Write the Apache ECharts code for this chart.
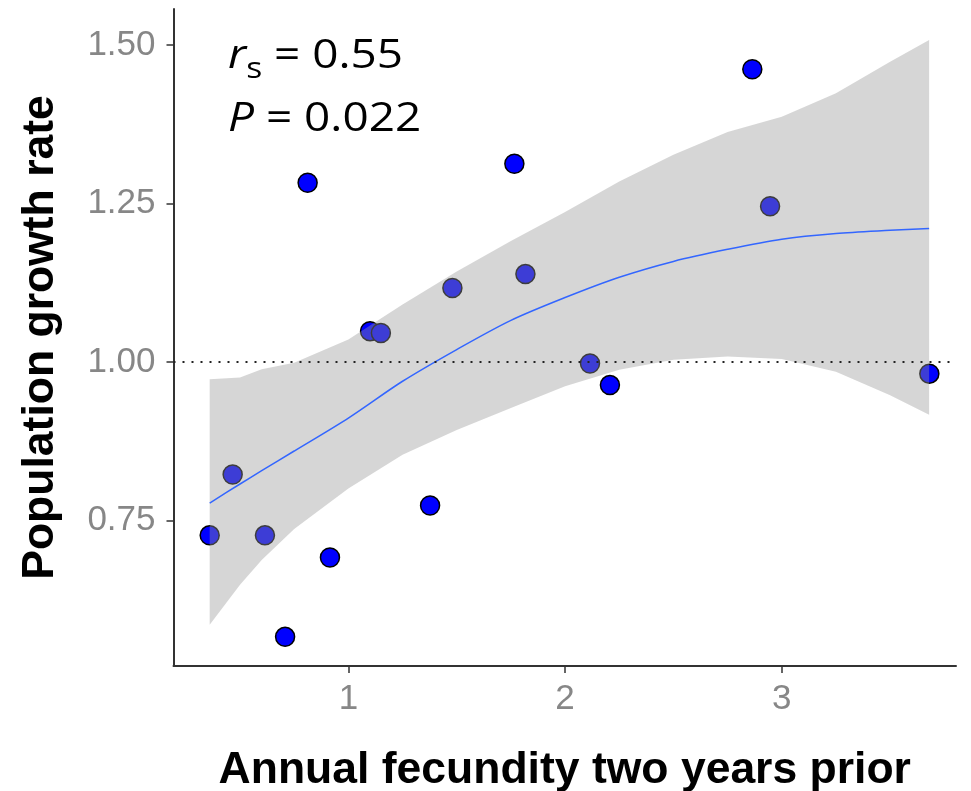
<!DOCTYPE html>
<html>
<head>
<meta charset="utf-8">
<script src="https://cdn.jsdelivr.net/npm/echarts@6/dist/echarts.min.js"></script>
<style>
  html, body { margin: 0; padding: 0; background: #fff; }
  #chart { width: 971px; height: 791px; }
</style>
</head>
<body>
<div id="chart"></div>
<script>
// observed points
const fecundity = [0.36, 0.466, 0.615, 0.708, 0.812, 0.915, 1.10, 1.15, 1.377, 1.48, 1.766, 1.817, 2.115, 2.207, 2.864, 2.946, 3.681];
const growth = [0.727, 0.823, 0.727, 0.567, 1.283, 0.692, 1.049, 1.046, 0.774, 1.117, 1.313, 1.139, 0.998, 0.964, 1.462, 1.246, 0.982];

// loess fit and its confidence band
const xFit = [0.36, 0.5, 0.6, 0.75, 1.0, 1.25, 1.5, 1.75, 2.0, 2.25, 2.5, 2.75, 3.0, 3.25, 3.5, 3.68];
const yFit = [0.778, 0.808, 0.829, 0.860, 0.912, 0.970, 1.020, 1.066, 1.102, 1.134, 1.159, 1.178, 1.194, 1.203, 1.208, 1.211];
const yLower = [0.586, 0.649, 0.688, 0.737, 0.801, 0.854, 0.893, 0.928, 0.962, 0.988, 1.004, 1.009, 1.005, 0.985, 0.948, 0.917];
const yUpper = [0.973, 0.976, 0.989, 0.999, 1.036, 1.091, 1.143, 1.191, 1.237, 1.285, 1.327, 1.363, 1.387, 1.424, 1.474, 1.508];

// tick labels
const xTicks = [1, 2, 3];
const yTicks = [0.75, 1.0, 1.25, 1.5];

const chart = echarts.init(document.getElementById('chart'));

const axisText = { color: '#878787', fontSize: 35, fontFamily: 'Liberation Sans' };
const titleText = { color: '#000', fontSize: 44.5, fontWeight: 'bold', fontFamily: 'Liberation Sans' };

const option = {
  animation: false,
  backgroundColor: '#fff',
  grid: { left: 173.5, right: 15, top: 9, bottom: 125, outerBoundsMode: 'none' },
  xAxis: {
    type: 'value',
    min: 0.193,
    max: 3.804,
    name: 'Annual fecundity two years prior',
    nameLocation: 'middle',
    nameGap: 82,
    nameTextStyle: titleText,
    splitLine: { show: false },
    axisLine: { lineStyle: { color: '#333', width: 2 } },
    axisTick: { customValues: xTicks, length: 7, lineStyle: { color: '#333', width: 1.5 } },
    axisLabel: Object.assign({ customValues: xTicks, margin: 16 }, axisText)
  },
  yAxis: {
    type: 'value',
    min: 0.521,
    max: 1.557,
    name: 'Population growth rate',
    nameLocation: 'middle',
    nameGap: 110,
    nameTextStyle: titleText,
    splitLine: { show: false },
    axisLine: { lineStyle: { color: '#333', width: 2 } },
    axisTick: { customValues: yTicks, length: 7, lineStyle: { color: '#333', width: 1.5 } },
    axisLabel: Object.assign({ customValues: yTicks, margin: 18, formatter: v => v.toFixed(2) }, axisText)
  },
  graphic: [
    {
      type: 'text', x: 228, y: 36, scaleX: 1.12,
      style: {
        text: '{r|r}{s|s}{t| = 0.55}',
        rich: {
          r: { fontStyle: 'italic', fontSize: 41, lineHeight: 48, verticalAlign: 'top', fontFamily: 'Open Sans', fill: '#000' },
          s: { fontSize: 30, lineHeight: 30, verticalAlign: 'bottom', fontFamily: 'Open Sans', fill: '#000' },
          t: { fontSize: 41, lineHeight: 48, verticalAlign: 'top', fontFamily: 'Open Sans', fill: '#000' }
        }
      }
    },
    {
      type: 'text', x: 228, y: 99, scaleX: 1.12,
      style: {
        text: '{p|P}{t| = 0.022}',
        rich: {
          p: { fontStyle: 'italic', fontSize: 41, lineHeight: 48, verticalAlign: 'top', fontFamily: 'Open Sans', fill: '#000' },
          t: { fontSize: 41, lineHeight: 48, verticalAlign: 'top', fontFamily: 'Open Sans', fill: '#000' }
        }
      }
    }
  ],
  series: [
    {
      type: 'scatter',
      z: 2,
      data: fecundity.map((x, i) => [x, growth[i]]),
      symbol: 'circle',
      symbolSize: 19,
      itemStyle: { color: '#0000ff', borderColor: '#000', borderWidth: 1.5, opacity: 1 },
      emphasis: { disabled: true },
      silent: true,
      markLine: {
        z: 5,
        silent: true,
        symbol: 'none',
        label: { show: false },
        lineStyle: { color: '#222', type: [2, 7], width: 2 },
        data: [{ yAxis: 1 }]
      }
    },
    {
      // confidence band, drawn over the points
      type: 'custom',
      z: 3,
      silent: true,
      data: xFit.map((x, i) => [x, yLower[i], yUpper[i]]),
      renderItem: function (params, api) {
        if (params.dataIndex !== 0) return;
        const upper = xFit.map((x, i) => api.coord([x, yUpper[i]]));
        const lower = xFit.map((x, i) => api.coord([x, yLower[i]])).reverse();
        return {
          type: 'polygon',
          shape: { points: upper.concat(lower) },
          style: { fill: 'rgba(153,153,153,0.4)', stroke: null }
        };
      }
    },
    {
      type: 'line',
      z: 4,
      data: xFit.map((x, i) => [x, yFit[i]]),
      smooth: 0.3,
      showSymbol: false,
      silent: true,
      lineStyle: { color: '#3366ff', width: 1.5 }
    }
  ]
};

chart.setOption(option);
</script>
</body>
</html>
